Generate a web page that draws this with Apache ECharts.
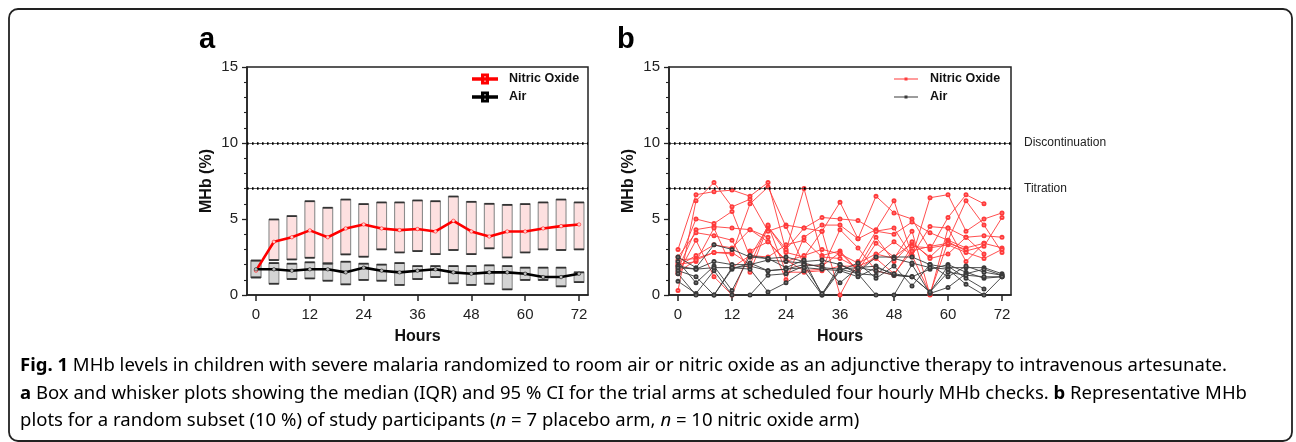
<!DOCTYPE html>
<html><head><meta charset="utf-8">
<script src="https://cdn.jsdelivr.net/npm/echarts@6/dist/echarts.min.js"></script>
<style>html,body{margin:0;padding:0;background:#fff}#c{width:1296px;height:442px}</style>
</head><body><div id="c"></div>
<script>
// ---------- data ----------
const hours = [0,4,8,12,16,20,24,28,32,36,40,44,48,52,56,60,64,68,72];
const hourTicks = [0,12,24,36,48,60,72];
const yTicks = [0,5,10,15];
const thresholds = [10,7];
const thresholdLabels = ['Discontinuation','Titration'];

// panel a: medians, IQR-like boxes
const noMedian = [1.6,3.5,3.8,4.25,3.8,4.38,4.64,4.38,4.27,4.34,4.18,4.88,4.18,3.85,4.18,4.18,4.38,4.53,4.64];
const noLow    = [1.16,2.3,2.34,2.45,2.08,2.67,2.52,3.0,2.8,2.89,2.69,2.96,2.69,3.07,2.47,2.8,3.0,2.96,3.0];
const noHigh   = [2.26,4.97,5.19,6.17,5.74,6.28,5.98,6.09,6.09,6.22,6.17,6.48,6.13,6.0,5.93,5.98,6.09,6.28,6.09];
const airMedian = [1.69,1.69,1.6,1.69,1.69,1.49,1.8,1.6,1.49,1.6,1.69,1.49,1.4,1.49,1.49,1.4,1.18,1.18,1.4];
const airLow    = [1.16,0.74,1.05,1.09,0.94,0.7,0.99,0.94,0.66,1.05,1.18,0.77,0.66,0.74,0.37,0.99,0.99,0.57,0.85];
const airHigh   = [2.26,2.1,2.06,2.15,2.06,2.19,2.06,2.0,2.1,1.9,1.9,1.9,1.9,1.95,1.9,1.8,1.8,1.8,1.49];

// panel b: individual participants
const no1  = [3.0,6.6,6.8,6.9,6.5,7.4,2.9,7.0,2.6,2.9,1.6,3.4,2.5,3.4,2.5,3.6,3.1,3.4,3.1];
const no2  = [0.3,6.2,7.4,5.8,6.3,4.2,4.6,4.4,4.2,6.1,3.7,6.5,5.4,5.0,3.0,5.1,6.6,6.0,null];
const no3  = [2.1,5.0,4.7,5.5,2.5,4.5,3.0,4.4,5.1,5.0,4.9,4.2,4.4,2.5,6.4,6.6,4.2,5.0,5.4];
const no4  = [1.7,4.3,4.5,4.4,4.3,3.8,1.0,3.8,4.6,4.6,3.7,4.3,6.2,2.6,4.5,4.4,3.8,3.9,3.8];
const no5  = [2.5,4.1,3.9,3.6,1.5,4.5,2.8,2.5,4.2,0.0,2.2,4.2,4.0,4.8,4.1,3.6,6.2,4.6,2.8];
const no6  = [2.3,2.4,2.8,2.7,6.0,7.1,4.5,2.0,1.9,2.8,1.6,2.6,3.5,2.6,0.1,3.5,2.9,3.2,5.1];
const no7  = [1.4,3.6,1.2,0.0,2.9,3.5,2.3,1.6,1.7,4.3,3.1,1.6,1.3,3.2,3.1,3.3,2.8,2.4,3.0];
const no8  = [2.0,2.2,4.4,1.8,2.6,2.5,3.3,3.6,2.5,2.4,1.8,3.8,2.2,3.5,2.4,2.7,3.8,2.7,null];
const no9  = [1.9,2.6,3.3,3.1,4.3,3.5,2.2,2.6,3.0,2.7,2.1,2.7,2.4,4.2,0.0,4.4,2.2,3.4,null];
const no10 = [1.5,2.3,2.8,2.8,2.0,4.6,1.5,1.5,1.6,1.9,1.9,2.4,1.4,2.9,3.2,3.4,3.0,null,null];
const air1 = [2.5,1.8,3.3,3.0,2.5,2.4,2.5,2.2,2.3,2.0,1.5,2.5,2.5,2.5,2.0,1.8,1.8,1.8,1.4];
const air2 = [1.9,1.7,2.2,2.0,2.0,2.3,2.2,2.1,1.8,1.7,1.8,1.9,1.3,1.2,1.7,2.0,1.5,1.1,1.2];
const air3 = [2.2,0.8,1.9,0.3,2.6,2.4,1.8,2.3,0.0,1.6,2.1,1.1,1.9,0.6,2.0,1.2,1.9,1.5,1.3];
const air4 = [1.6,1.2,0.0,1.8,1.7,0.2,0.8,1.6,0.0,2.0,1.4,0.0,0.0,2.0,0.1,0.5,1.4,1.7,1.3];
const air5 = [0.9,0.1,1.6,0.0,0.0,1.3,1.4,1.9,2.0,0.8,1.8,1.6,1.3,1.2,0.2,1.9,1.1,0.4,null];
const air6 = [1.4,0.0,0.0,1.7,2.1,1.6,1.7,2.0,0.1,1.7,1.4,1.3,2.4,2.1,1.8,1.7,0.7,0.0,1.2];
const air7 = [1.8,1.7,1.8,1.8,1.9,1.6,1.7,1.8,1.7,1.6,1.2,1.8,1.4,1.2,0.2,1.5,1.3,1.2,1.2];
const noTraces = [no1,no2,no3,no4,no5,no6,no7,no8,no9,no10];
const airTraces = [air1,air2,air3,air4,air5,air6,air7];

// caption
const captionLines = [
  [{t:'Fig. 1',b:1},{t:' MHb levels in children with severe malaria randomized to room air or nitric oxide as an adjunctive therapy to intravenous artesunate.'}],
  [{t:'a',b:1},{t:' Box and whisker plots showing the median (IQR) and 95 % CI for the trial arms at scheduled four hourly MHb checks. '},{t:'b',b:1},{t:' Representative MHb'}],
  [{t:'plots for a random subset (10 %) of study participants ('},{t:'n',i:1},{t:' = 7 placebo arm, '},{t:'n',i:1},{t:' = 10 nitric oxide arm)'}]
];

// ---------- build ----------
const FONT = '"Liberation Sans", Arial, sans-serif';
const CAPFONT = '"Noto Sans", "Open Sans", sans-serif';
const chart = echarts.init(document.getElementById('c'));

function xAx(gi){
  return {type:'value', gridIndex:gi, min:-2, max:74,
    name:'Hours', nameLocation:'middle', nameGap:34,
    nameTextStyle:{fontFamily:FONT, fontWeight:'bold', fontSize:16, color:'#111'},
    axisLine:{onZero:false, lineStyle:{color:'#222', width:1.5}},
    axisTick:{show:true, customValues:hourTicks, length:6, lineStyle:{color:'#222', width:1.5}},
    axisLabel:{customValues:hourTicks, margin:12, fontFamily:FONT, fontSize:15, color:'#222'},
    splitLine:{show:false}};
}
function yAx(gi){
  return {type:'value', gridIndex:gi, min:0, max:15, interval:5,
    name:'MHb (%)', nameLocation:'middle', nameGap:32, nameRotate:90,
    nameTextStyle:{fontFamily:FONT, fontWeight:'bold', fontSize:16, color:'#111'},
    axisLine:{show:true, onZero:false, lineStyle:{color:'#222', width:1.5}},
    axisTick:{show:true, length:5, lineStyle:{color:'#222', width:1.3}},
    minorTick:{show:true, splitNumber:5, length:3, lineStyle:{color:'#222', width:1.1}},
    axisLabel:{margin:9, fontFamily:FONT, fontSize:15, color:'#222',
      formatter: v => yTicks.includes(v) ? String(v) : ''},
    splitLine:{show:false}};
}
function refLines(withLabels){
  const data = [];
  thresholds.forEach((t,i)=>{
    data.push({yAxis:t, lineStyle:{color:'#333', width:0.8, type:'solid'}, label:{show:false}});
    data.push({yAxis:t, lineStyle:{color:'#000', width:2.6, type:[1.6,3.4]},
      label: withLabels ? {show:true, position:'end', distance:13, formatter:thresholdLabels[i],
        fontFamily:FONT, fontSize:12, color:'#222'} : {show:false}});
  });
  return {silent:true, symbol:'none', animation:false, data};
}
function boxRender(fill){
  return function(params, api){
    const x = api.value(0);
    const lo = api.coord([x, api.value(1)]);
    const hi = api.coord([x, api.value(2)]);
    const w = api.size([2.2, 0])[0];
    return {type:'group', children:[
      {type:'rect', shape:{x:hi[0]-w/2, y:hi[1], width:w, height:lo[1]-hi[1]},
        style:{fill:fill, stroke:'#8c8c8c', lineWidth:1.1}},
      {type:'line', shape:{x1:hi[0]-w/2, y1:hi[1], x2:hi[0]+w/2, y2:hi[1]}, style:{stroke:'#333', lineWidth:1.8}},
      {type:'line', shape:{x1:lo[0]-w/2, y1:lo[1], x2:lo[0]+w/2, y2:lo[1]}, style:{stroke:'#333', lineWidth:1.8}}
    ]};
  };
}

const series = [];
series.push({type:'custom', name:'NO box', xAxisIndex:0, yAxisIndex:0, renderItem:boxRender('#fde0e0'),
  data: hours.map((h,i)=>[h, noLow[i], noHigh[i]]), encode:{x:0, y:[1,2]}, z:2,
  markLine: refLines(false)});
series.push({type:'custom', name:'Air box', xAxisIndex:0, yAxisIndex:0, renderItem:boxRender('#d4d4d4'),
  data: hours.map((h,i)=>[h, airLow[i], airHigh[i]]), encode:{x:0, y:[1,2]}, z:3});
series.push({type:'line', name:'Nitric Oxide', xAxisIndex:0, yAxisIndex:0, z:5,
  data: hours.map((h,i)=>[h, noMedian[i]]), color:'#ff0000',
  lineStyle:{width:2.6, color:'#ff0000'}, symbol:'circle', symbolSize:3.5,
  itemStyle:{color:'#ffd0d0', borderColor:'#ff0000', borderWidth:0.5}});
series.push({type:'line', name:'Air', xAxisIndex:0, yAxisIndex:0, z:5,
  data: hours.map((h,i)=>[h, airMedian[i]]), color:'#000',
  lineStyle:{width:2.6, color:'#000'}, symbol:'circle', symbolSize:3.5,
  itemStyle:{color:'#bbb', borderColor:'#000', borderWidth:0.5}});

noTraces.forEach((tr,k)=>{
  series.push({type:'line', name:'NO-b', xAxisIndex:1, yAxisIndex:1, z:3,
    data: hours.map((h,i)=>[h, tr[i]]), color:'#ff3b3b',
    lineStyle:{width:0.9, color:'#ff3b3b'}, symbol:'emptyCircle', symbolSize:3,
    itemStyle:{color:'#ff3b3b', borderWidth:0.9},
    markLine: k===0 ? refLines(true) : undefined});
});
airTraces.forEach(tr=>{
  series.push({type:'line', name:'Air-b', xAxisIndex:1, yAxisIndex:1, z:4,
    data: hours.map((h,i)=>[h, tr[i]]), color:'#3a3a3a',
    lineStyle:{width:0.9, color:'#3a3a3a'}, symbol:'emptyCircle', symbolSize:3,
    itemStyle:{color:'#3a3a3a', borderWidth:0.9}});
});

// caption measurement for horizontal fit
const cv = document.createElement('canvas').getContext('2d');
const CAPSIZE = 17.5;
function measure(segs){
  let w = 0;
  segs.forEach(s=>{ cv.font = (s.i?'italic ':'')+(s.b?'bold ':'')+CAPSIZE+'px '+CAPFONT; w += cv.measureText(s.t).width; });
  return w;
}
const capTargets = [1207, 1227];
const capScales = capTargets.map((t,i)=>t/measure(captionLines[i]));
const capScale3 = (capScales[0]+capScales[1])/2;
const capY = [366, 394, 421];
const capRich = {
  r:{fontFamily:CAPFONT, fontSize:CAPSIZE, color:'#231f20'},
  b:{fontFamily:CAPFONT, fontSize:CAPSIZE, fontWeight:'bold', color:'#231f20'},
  i:{fontFamily:CAPFONT, fontSize:CAPSIZE, fontStyle:'italic', color:'#231f20'}
};
const capGraphics = captionLines.map((segs,i)=>({
  type:'text', x:20, y:capY[i], scaleX: i<2 ? capScales[i] : capScale3,
  style:{text: segs.map(s=>'{'+(s.b?'b':s.i?'i':'r')+'|'+s.t+'}').join(''),
    rich:capRich, verticalAlign:'middle', fontFamily:CAPFONT, fontSize:CAPSIZE}
}));

const legendText = {fontFamily:FONT, fontWeight:'bold', fontSize:12.5, color:'#111', lineHeight:14, padding:[0,0,0,7]};
const option = {
  animation:false,
  backgroundColor:'#fff',
  grid:[
    {left:247, top:67, width:341, height:228, show:true, borderColor:'#222', borderWidth:1.5, backgroundColor:'transparent'},
    {left:669, top:67, width:342, height:228, show:true, borderColor:'#222', borderWidth:1.5, backgroundColor:'transparent'}
  ],
  xAxis:[xAx(0), xAx(1)],
  yAxis:[yAx(0), yAx(1)],
  legend:[
    {data:['Nitric Oxide','Air'], orient:'vertical', left:467, top:67, itemWidth:24, itemHeight:10, itemGap:4,
      icon:'path://M0,4.2h9v-3.7h6v3.7h9v1.6h-9v3.7h-6v-3.7h-9z M10,1.5v7h4v-7z M10,4.2h4v1.6h-4z',
      textStyle:legendText, selectedMode:false},
    {data:['NO-b','Air-b'], orient:'vertical', left:889, top:67, itemWidth:24, itemHeight:10, itemGap:4,
      icon:'path://M0,4.5h24v1h-24z M10.5,3.5h3v3h-3z',
      formatter: n => n==='NO-b' ? 'Nitric Oxide' : 'Air',
      textStyle:legendText, selectedMode:false}
  ],
  graphic:[
    {type:'rect', shape:{x:9, y:9, width:1283, height:432, r:9}, style:{fill:'none', stroke:'#222', lineWidth:1.8}, z:-10},
    {type:'text', x:199, y:40, style:{text:'a', fontFamily:FONT, fontWeight:'bold', fontSize:29, fill:'#000', verticalAlign:'middle'}},
    {type:'text', x:617, y:40, style:{text:'b', fontFamily:FONT, fontWeight:'bold', fontSize:29, fill:'#000', verticalAlign:'middle'}},
    ...capGraphics
  ],
  series
};
chart.setOption(option);
</script></body></html>
